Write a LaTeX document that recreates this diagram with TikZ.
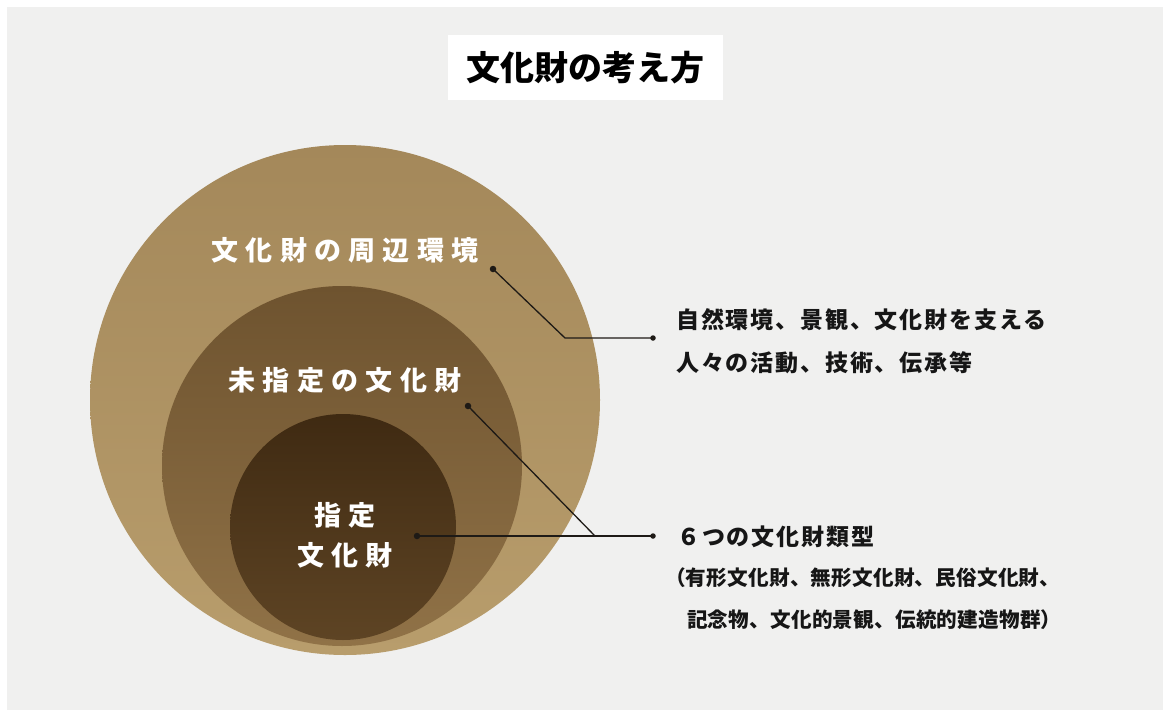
\documentclass[tikz,border=0pt]{standalone}
\usepackage{fontspec}
\newfontfamily\jp{Noto Sans CJK JP}
\newfontfamily\jpwide{Noto Sans CJK JP}[LetterSpace=27]
\newfontfamily\jpmid{Noto Sans CJK JP}[LetterSpace=8]
\newfontfamily\jpnar{Noto Sans CJK JP}[LetterSpace=1]
\definecolor{bgc}{HTML}{F0F0EF}
\definecolor{linec}{HTML}{1E1A16}
\definecolor{txtc}{HTML}{161616}
\definecolor{outA}{HTML}{A4885A}
\definecolor{outB}{HTML}{B89D6C}
\definecolor{midA}{HTML}{6E532F}
\definecolor{midB}{HTML}{907247}
\definecolor{innA}{HTML}{3F2A12}
\definecolor{innB}{HTML}{5E4424}
\begin{document}
\begin{tikzpicture}[x=1pt,y=-1pt,
  ring/.style={circle, draw=none, inner sep=0pt, minimum size=#1},
  dotmark/.style={circle, fill=linec, inner sep=0pt, minimum size=6.5pt},
  enddot/.style={circle, fill=linec, inner sep=0pt, minimum size=5.5pt},
  leader/.style={draw=linec, line width=1.3pt},
  intext/.style={text=white, inner sep=0pt, align=center,
    font=\jpwide\bfseries\fontsize{27}{40}\selectfont},
  sidetext/.style={text=txtc, inner sep=0pt, anchor=west,
    font=\jpmid\bfseries\fontsize{23}{26}\selectfont},
  smalltext/.style={text=txtc, inner sep=0pt, anchor=west,
    font=\jpnar\bfseries\fontsize{20.6}{24}\selectfont}]
\useasboundingbox (0,0) rectangle (1163,710);
\fill[white] (0,0) rectangle (1163,710);
\fill[bgc] (7,7) rectangle (1163,710);
% title
\node[fill=white, minimum width=275pt, minimum height=65pt, inner sep=0pt] (titlebox) at (585.5,67.5) {};
\node[text=black, inner sep=0pt, font=\jp\bfseries\fontsize{34}{40}\selectfont] (title) at (585,68) {文化財の考え方};
% circles
\node[ring=510pt, top color=outA, bottom color=outB] (outer) at (345,400) {};
\node[ring=360pt, top color=midA, bottom color=midB] (middle) at (342,466) {};
\node[ring=226pt, top color=innA, bottom color=innB] (inner) at (343,527) {};
% circle labels
\node[intext] (lab1) at (345,250) {文化財の周辺環境};
\node[intext] (lab2) at (345,380) {未指定の文化財};
\node[intext] (lab3) at (345,535) {指定\\文化財};
% leader dots
\node[dotmark] (d1) at (493,269) {};
\node[dotmark] (d2) at (468,406) {};
\node[dotmark] (d3) at (417,536) {};
\coordinate (k1) at (565,338);
\coordinate (k2) at (595,536);
\node[enddot] (e1) at (653,338) {};
\node[enddot] (e2) at (653,536) {};
\draw[leader] (d1.center) -- (k1) -- (e1.center);
\draw[leader] (d2.center) -- (k2);
\draw[leader] (d3.center) -- (e2.center);
% side texts
\node[sidetext] (t1) at (676,320) {自然環境、景観、文化財を支える};
\node[sidetext] (t2) at (676,363) {人々の活動、技術、伝承等};
\node[sidetext] (t3) at (677,537) {６つの文化財類型};
\node[smalltext] (t4) at (665,578) {（有形文化財、無形文化財、民俗文化財、};
\node[smalltext] (t5) at (687,620) {記念物、文化的景観、伝統的建造物群）};
\end{tikzpicture}
\end{document}
